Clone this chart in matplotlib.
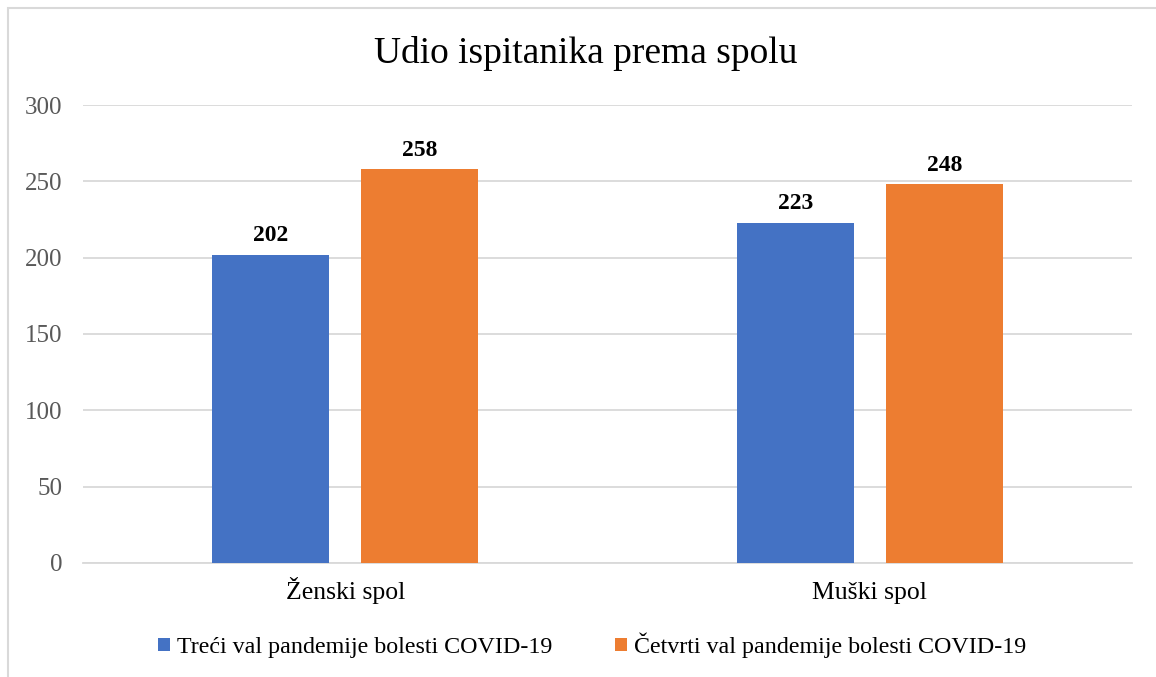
import numpy as np
import matplotlib.pyplot as plt
from matplotlib.patches import Rectangle

categories = ["Ženski spol", "Muški spol"]
series_names = ["Treći val pandemije bolesti COVID-19",
                "Četvrti val pandemije bolesti COVID-19"]
treci = [202, 223]
cetvrti = [258, 248]
colors = ["#4472C4", "#ED7D31"]
title = "Udio ispitanika prema spolu"

plt.rcParams['font.family'] = ['Liberation Serif', 'DejaVu Serif']

fig = plt.figure(figsize=(11.56, 6.77), dpi=100)
ax = fig.add_axes([0.0718, 0.1684, 0.9074, 0.6765])

x = np.arange(len(categories))
width = 0.223
offset = 0.142
for vals, name, col, off in [(treci, series_names[0], colors[0], -offset),
                             (cetvrti, series_names[1], colors[1], offset)]:
    bars = ax.bar(x + off, vals, width, color=col, label=name, zorder=3)
    for b, v in zip(bars, vals):
        ax.annotate(str(v), (b.get_x() + b.get_width() / 2, v),
                    xytext=(0, 6), textcoords="offset points",
                    ha="center", va="bottom", fontsize=17, fontweight="bold")

ax.set_xlim(-0.5, 1.5)
ax.set_ylim(0, 300)
ax.set_yticks(range(0, 301, 50))
ax.yaxis.grid(True, color="#D9D9D9", linewidth=1.3, zorder=0)
ax.set_axisbelow(True)
for s in ["top", "right", "left"]:
    ax.spines[s].set_visible(False)
ax.spines["bottom"].set_color("#D9D9D9")
ax.spines["bottom"].set_linewidth(1.3)
ax.tick_params(axis="y", length=0, pad=15, labelsize=18, labelcolor="#595959")
ax.tick_params(axis="x", length=0, pad=26, labelsize=18.5)
ax.set_xticks(x)
ax.set_xticklabels(categories, va="baseline")

fig.text(0.5065, 0.9205, title, ha="center", va="center", fontsize=27)

fig.legend(loc="center", bbox_to_anchor=(0.512, 0.047), ncol=2, frameon=False,
           fontsize=17.3, handlelength=0.5, handleheight=0.5, handletextpad=0.3,
           columnspacing=2.6)

fig.patches.append(Rectangle((8 / 1156, -0.1), 1.2, 1.1 - 8 / 677,
                             transform=fig.transFigure, fill=False,
                             edgecolor="#D9D9D9", linewidth=1.5))

fig.savefig("out.png", dpi=100)
